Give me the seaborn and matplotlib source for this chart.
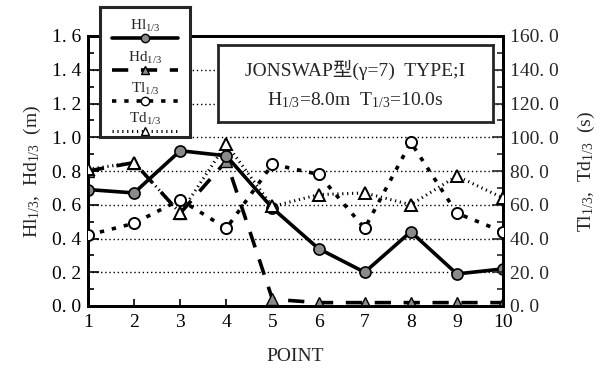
import matplotlib
matplotlib.use("Agg")
import matplotlib.pyplot as plt
import matplotlib.ticker as mticker
import numpy as np
import pandas as pd
import seaborn as sns

# ---- data ----
points = [1, 2, 3, 4, 5, 6, 7, 8, 9, 10]
hl13 = [0.69, 0.67, 0.92, 0.89, 0.58, 0.34, 0.20, 0.44, 0.19, 0.22]
hd13 = [0.80, 0.85, 0.55, 0.86, 0.04, 0.02, 0.02, 0.02, 0.02, 0.02]
tl13 = [42.0, 49.0, 63.0, 46.0, 84.0, 78.0, 46.0, 97.0, 55.0, 44.0]
td13 = [81.0, 85.0, 55.0, 96.0, 59.0, 66.0, 67.0, 60.0, 77.0, 64.0]
left_ticks = [0.0, 0.2, 0.4, 0.6, 0.8, 1.0, 1.2, 1.4, 1.6]
left_labels = ["0. 0", "0. 2", "0. 4", "0. 6", "0. 8", "1. 0", "1. 2", "1. 4", "1. 6"]
right_ticks = [0, 20, 40, 60, 80, 100, 120, 140, 160]
right_labels = ["0. 0", "20. 0", "40. 0", "60. 0", "80. 0", "100. 0", "120. 0", "140. 0", "160. 0"]

df = pd.DataFrame({"point": points, "Hl": hl13, "Hd": hd13, "Tl": tl13, "Td": td13})

sns.set_style("ticks")
SERIF = ["Liberation Serif", "Noto Sans CJK JP"]
plt.rcParams["font.family"] = SERIF
plt.rcParams["mathtext.fontset"] = "custom"
plt.rcParams["mathtext.rm"] = "Liberation Serif"
plt.rcParams["mathtext.it"] = "Liberation Serif:italic"

fig = plt.figure(figsize=(6.11, 3.81), dpi=100)
W, H = 611, 381
ax = fig.add_axes([88 / W, 1 - 306 / H, (503 - 88) / W, (306 - 36) / H])
ax2 = ax.twinx()

gray = "#8a8a8a"
sns.lineplot(data=df, x="point", y="Hl", ax=ax, color="black", lw=2.6,
             marker="o", markersize=8, markerfacecolor=gray, markeredgecolor="black",
             markeredgewidth=1.2, zorder=5)
sns.lineplot(data=df, x="point", y="Hd", ax=ax, color="black", lw=2.6,
             linestyle=(0, (4.5, 3.5)), marker="^", markersize=9, markerfacecolor=gray,
             markeredgecolor="black", markeredgewidth=1.0, zorder=4)
sns.lineplot(data=df, x="point", y="Tl", ax=ax2, color="black", lw=2.6,
             linestyle=(0, (1.2, 2.2)), marker="o", markersize=8, markerfacecolor="white",
             markeredgecolor="black", markeredgewidth=1.4, zorder=4)
sns.lineplot(data=df, x="point", y="Td", ax=ax2, color="black", lw=2.2,
             linestyle=(0, (0.4, 1.2)), marker="^", markersize=9, markerfacecolor="white",
             markeredgecolor="black", markeredgewidth=1.4, zorder=3)

ax.set_xlim(1, 10)
ax.set_ylim(0, 1.6)
ax2.set_ylim(0, 160)
ax.set_xticks(points)
ax.set_xticklabels([str(p) for p in points], fontsize=14)
ax.set_yticks(left_ticks)
ax.set_yticklabels(left_labels, fontsize=14)
ax2.set_yticks(right_ticks)
ax2.set_yticklabels(right_labels, fontsize=14)
ax.yaxis.set_minor_locator(mticker.MultipleLocator(0.1))
ax2.yaxis.set_minor_locator(mticker.MultipleLocator(10))
ax.tick_params(axis="both", which="both", direction="in", width=1.2, colors="black")
ax.tick_params(axis="y", which="major", length=8, pad=5)
ax.tick_params(axis="y", which="minor", length=4)
ax.tick_params(axis="x", which="major", length=5, pad=6)
ax2.tick_params(axis="y", which="both", direction="in", width=1.2)
ax2.tick_params(axis="y", which="major", length=8, pad=5)
ax2.tick_params(axis="y", which="minor", length=4)

ax.grid(axis="y", which="major", linestyle=(0, (1, 2)), color="black", lw=1.0)
ax.set_axisbelow(True)
for a in (ax, ax2):
    for s in a.spines.values():
        s.set_visible(True)
        s.set_linewidth(2.0)
        s.set_color("black")

ax.set_xlabel("POINT", fontsize=14, labelpad=12)
ax.set_ylabel(r"Hl$_{1/3}$,  Hd$_{1/3}$  (m)", fontsize=14, labelpad=6)
ax2.set_ylabel(r"Tl$_{1/3}$,  Td$_{1/3}$  (s)", fontsize=14, labelpad=12)

# ---- annotation box ----
tb = fig.add_axes([218 / W, 1 - 122 / H, (493 - 218) / W, (122 - 45) / H], zorder=10)
tb.set_xticks([]); tb.set_yticks([])
tb.set_facecolor("white")
for s in tb.spines.values():
    s.set_linewidth(2.0)
tb.text(0.5, 0.68, "JONSWAP型(γ=7)  TYPE;I", ha="center", va="center",
        fontsize=14, family=SERIF, transform=tb.transAxes)
tb.text(0.5, 0.28, r"H$_{1/3}$=8.0m  T$_{1/3}$=10.0s", ha="center", va="center",
        fontsize=14, transform=tb.transAxes)

# ---- legend box ----
lg = fig.add_axes([100 / W, 1 - 137 / H, 90 / W, 130 / H], zorder=11)
lg.set_xlim(0, 90); lg.set_ylim(130, 0)
lg.set_xticks([]); lg.set_yticks([])
lg.set_facecolor("white")
for s in lg.spines.values():
    s.set_linewidth(2.2)
entries = [
    (r"Hl$_{1/3}$", dict(lw=2.6, linestyle="-", marker="o", markerfacecolor=gray)),
    (r"Hd$_{1/3}$", dict(lw=2.6, linestyle=(0, (4.5, 3.5)), marker="^", markerfacecolor=gray)),
    (r"Tl$_{1/3}$", dict(lw=2.6, linestyle=(0, (1.2, 2.2)), marker="o", markerfacecolor="white")),
    (r"Td$_{1/3}$", dict(lw=2.2, linestyle=(0, (0.4, 1.2)), marker="^", markerfacecolor="white")),
]
ys = [34, 66, 97, 127]
for (lab, kw), yy in zip(entries, ys):
    lg.text(45, yy - 7, lab, ha="center", va="bottom", fontsize=11)
    lg.plot([12, 45, 78], [yy - 3, yy - 3, yy - 3], color="black", markersize=6,
            markeredgecolor="black", markevery=[1], **kw)

fig.savefig("out.png", dpi=100)
